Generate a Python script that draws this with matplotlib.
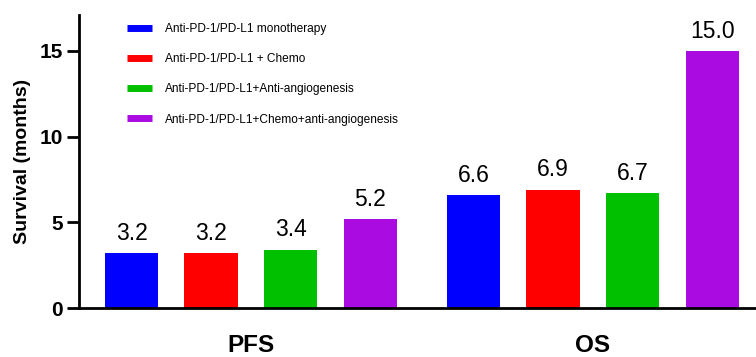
import matplotlib.pyplot as plt
from matplotlib.lines import Line2D

plt.rcParams['font.family'] = ['Liberation Sans', 'DejaVu Sans']

groups = ['PFS', 'OS']
therapies = ['Anti-PD-1/PD-L1 monotherapy',
             'Anti-PD-1/PD-L1 + Chemo',
             'Anti-PD-1/PD-L1+Anti-angiogenesis',
             'Anti-PD-1/PD-L1+Chemo+anti-angiogenesis']
pfs = [3.2, 3.2, 3.4, 5.2]
os_ = [6.6, 6.9, 6.7, 15.0]
colors = ['#0000FF', '#FF0000', '#00C000', '#A90BE0']

fig = plt.figure(figsize=(7.56, 3.57), dpi=100)
ax = fig.add_axes([0.1045, 0.137, 0.8955, 0.821])

width = 0.67
group_start = [0.0, 4.3]
for g, vals in zip(group_start, [pfs, os_]):
    for i, (v, c) in enumerate(zip(vals, colors)):
        x = g + i
        ax.bar(x, v, width=width, color=c)
        ax.annotate(f'{v:.1f}', (x, v), xytext=(0, 6), textcoords='offset points',
                    ha='center', va='bottom', fontsize=16.5)

ax.set_xlim(-0.66, 7.85)
ax.set_ylim(0, 17.1)
ax.set_yticks([0, 5, 10, 15])
ax.set_xticks([g + 1.5 for g in group_start])
ax.set_xticklabels(groups, fontsize=17.5, fontweight='bold')
ax.tick_params(axis='x', length=0, pad=19)
ax.tick_params(axis='y', length=8.5, width=2, labelsize=15, pad=3)
for lab in ax.get_yticklabels():
    lab.set_fontweight('bold')
ax.set_ylabel('Survival (months)', fontsize=14, fontweight='bold', labelpad=6)

for s in ['top', 'right']:
    ax.spines[s].set_visible(False)
ax.spines['left'].set_linewidth(2)
ax.spines['bottom'].set_linewidth(2)

handles = [Line2D([0], [0], color=c, lw=5, solid_capstyle='butt') for c in colors]
ax.legend(handles, therapies, loc='upper left', bbox_to_anchor=(0.055, 1.008),
          frameon=False, fontsize=8.6, handlelength=2.1, handletextpad=1.1,
          labelspacing=1.51)

fig.savefig('out.png', dpi=100)
